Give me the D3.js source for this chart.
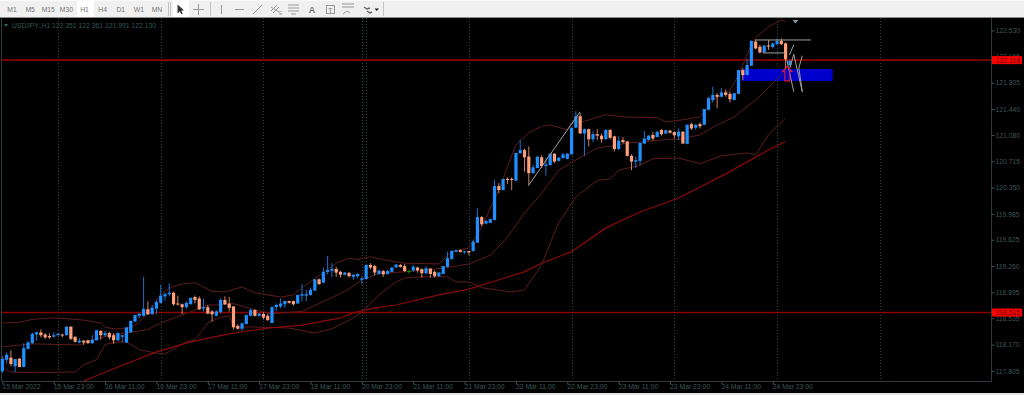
<!DOCTYPE html>
<html><head><meta charset="utf-8">
<script src="https://cdn.jsdelivr.net/npm/d3@7/dist/d3.min.js"></script>
<style>
html,body{margin:0;padding:0;background:#000;overflow:hidden}
svg{display:block}
text{font-family:"Liberation Sans",Arial,sans-serif}
</style></head><body>
<svg id="c" width="1024" height="395"></svg>
<script>
const timeframes=["M1","M5","M15","M30","H1","H4","D1","W1","MN"];
const legendSymbol="USDJPY.,H1";
const legendValues=["122.351","122.361","121.991","122.130"];
const priceTicks=[122.530,122.165,121.805,121.440,121.080,120.715,120.350,119.985,119.625,119.260,118.895,118.535,118.170,117.805];
const timeTickBars=[0,12,24,36,48,60,72,84,96,108,120,132,144,156,168,180];
const timeTickLabels=["15 Mar 2022","15 Mar 23:00","16 Mar 11:00","16 Mar 23:00","17 Mar 11:00","17 Mar 23:00","18 Mar 11:00","20 Mar 23:00","21 Mar 11:00","21 Mar 23:00","22 Mar 11:00","22 Mar 23:00","23 Mar 11:00","23 Mar 23:00","24 Mar 11:00","24 Mar 23:00"];
const gridBars=[13,37,61,84,85,109,133,157,181,205];
const levels=[122.118,118.615];
const opens=[117.80,117.96,117.99,117.87,117.975,117.86,118.11,118.19,118.31,118.34,
118.31,118.29,118.28,118.30,118.31,118.30,118.42,118.28,118.20,118.225,
118.23,118.19,118.23,118.36,118.30,118.33,118.30,118.23,118.28,118.20,
118.34,118.49,118.57,118.57,118.66,118.595,118.67,118.75,118.84,118.87,
118.89,118.74,118.73,118.69,118.73,118.83,118.81,118.67,118.69,118.63,
118.57,118.62,118.79,118.74,118.70,118.43,118.39,118.455,118.57,118.65,
118.57,118.595,118.57,118.47,118.69,118.70,118.73,118.775,118.775,118.74,
118.85,118.85,118.86,118.92,119.076,119.03,119.18,119.195,119.22,119.18,
119.14,119.165,119.11,119.12,119.07,119.08,119.275,119.26,119.15,119.19,
119.15,119.18,119.24,119.275,119.26,119.19,119.20,119.24,119.215,119.16,
119.225,119.18,119.12,119.15,119.25,119.36,119.46,119.48,119.45,119.47,
119.47,119.585,119.94,119.85,119.86,119.90,120.37,120.315,120.47,120.47,
120.445,120.825,120.87,120.78,120.55,120.62,120.77,120.65,120.66,120.82,
120.72,120.76,120.75,120.81,121.18,121.34,121.10,121.16,121.02,121.09,
121.07,121.02,121.15,121.06,120.885,121.01,120.99,120.79,120.71,120.72,
120.96,121.01,121.08,121.05,121.15,121.10,121.14,121.12,121.06,121.125,
120.955,121.23,121.18,121.23,121.22,121.43,121.565,121.635,121.61,121.67,
121.65,121.565,121.65,121.98,121.91,122.04,122.375,122.305,122.225,122.32,
122.30,122.34,122.385,122.351,122.05];
const highs=[118.01,118.06,118.09,117.97,117.98,118.19,118.22,118.34,118.35,118.38,
118.33,118.33,118.34,118.33,118.32,118.42,118.42,118.28,118.26,118.23,
118.24,118.30,118.37,118.37,118.36,118.35,118.33,118.34,118.30,118.41,
118.50,118.58,118.60,119.11,118.77,118.72,118.79,119.00,118.89,119.02,
118.905,118.85,118.74,118.77,118.82,118.85,118.84,118.81,118.72,118.65,
118.65,118.81,118.84,118.83,118.70,118.455,118.475,118.58,118.67,118.66,
118.61,118.62,118.60,118.70,118.74,118.81,118.78,118.78,118.78,118.86,
119.01,118.93,118.96,119.08,119.09,119.24,119.40,119.30,119.25,119.195,
119.18,119.18,119.145,119.16,119.11,119.28,119.30,119.28,119.215,119.205,
119.205,119.24,119.29,119.29,119.29,119.215,119.275,119.25,119.23,119.26,
119.23,119.20,119.18,119.26,119.46,119.48,119.49,119.49,119.47,119.47,
119.62,120.06,119.955,119.90,119.92,120.455,120.41,120.47,120.49,120.49,
120.83,121.01,120.89,120.92,120.67,120.78,120.80,120.765,120.82,120.82,
120.77,120.83,120.83,121.18,121.41,121.39,121.17,121.17,121.13,121.16,
121.10,121.16,121.16,121.07,121.06,121.05,121.00,120.81,120.78,120.97,
121.135,121.08,121.12,121.13,121.16,121.15,121.15,121.13,121.17,121.13,
121.23,121.25,121.23,121.25,121.44,121.61,121.75,121.66,121.73,121.71,
121.68,121.66,121.98,122.005,122.135,122.39,122.40,122.33,122.33,122.40,
122.36,122.42,122.42,122.361,122.13];
const lows=[117.78,117.91,117.87,117.79,117.86,117.855,118.105,118.18,118.225,118.27,
118.25,118.25,118.27,118.30,118.27,118.30,118.23,118.20,118.19,118.165,
118.18,118.18,118.23,118.24,118.28,118.24,118.18,118.22,118.20,118.19,
118.34,118.49,118.535,118.56,118.58,118.58,118.60,118.74,118.78,118.84,
118.71,118.71,118.595,118.67,118.73,118.74,118.65,118.63,118.595,118.49,
118.56,118.60,118.72,118.63,118.38,118.38,118.36,118.455,118.56,118.56,
118.56,118.52,118.50,118.47,118.64,118.675,118.68,118.74,118.71,118.74,
118.77,118.77,118.85,118.92,119.00,119.02,119.145,119.11,119.11,119.10,
119.13,119.10,119.07,119.09,119.01,119.08,119.215,119.13,119.14,119.11,
119.14,119.18,119.24,119.24,119.18,119.155,119.18,119.17,119.10,119.15,
119.10,119.10,119.11,119.15,119.24,119.345,119.45,119.45,119.43,119.41,
119.46,119.58,119.815,119.84,119.855,119.89,120.27,120.31,120.40,120.315,
120.44,120.82,120.57,120.39,120.54,120.62,120.62,120.515,120.66,120.69,
120.71,120.75,120.74,120.81,121.18,121.10,120.79,120.92,120.98,121.01,
120.97,121.02,121.02,120.85,120.87,120.96,120.78,120.59,120.62,120.66,
120.95,121.00,121.00,121.05,121.07,121.09,121.10,121.03,121.01,120.96,
120.95,121.15,121.15,121.17,121.22,121.42,121.53,121.45,121.60,121.61,
121.53,121.56,121.65,121.84,121.91,122.04,122.27,122.21,122.22,122.26,
122.28,122.33,122.33,121.991,122.04];
const closes=[117.97,118.03,117.90,117.97,117.86,118.12,118.20,118.32,118.34,118.30,
118.27,118.27,118.30,118.32,118.30,118.42,118.25,118.21,118.225,118.20,
118.19,118.24,118.37,118.30,118.33,118.27,118.23,118.33,118.30,118.41,
118.50,118.58,118.60,118.665,118.59,118.68,118.76,118.85,118.87,118.89,
118.73,118.73,118.69,118.75,118.82,118.79,118.66,118.69,118.60,118.59,
118.63,118.79,118.73,118.68,118.41,118.39,118.465,118.58,118.65,118.57,
118.60,118.545,118.51,118.69,118.72,118.74,118.775,118.75,118.73,118.86,
118.87,118.87,118.93,119.076,119.01,119.18,119.205,119.22,119.17,119.14,
119.17,119.12,119.14,119.15,119.09,119.275,119.24,119.17,119.195,119.145,
119.19,119.24,119.28,119.25,119.19,119.19,119.25,119.20,119.16,119.23,
119.15,119.12,119.17,119.26,119.37,119.47,119.48,119.455,119.465,119.45,
119.60,119.94,119.84,119.885,119.91,120.37,120.315,120.47,120.455,120.455,
120.83,120.87,120.77,120.55,120.63,120.78,120.65,120.67,120.82,120.71,
120.765,120.81,120.82,121.18,121.34,121.10,121.16,121.02,121.09,121.07,
121.02,121.15,121.04,120.885,121.00,120.98,120.79,120.71,120.73,120.97,
121.03,121.07,121.03,121.125,121.09,121.145,121.11,121.075,121.125,120.96,
121.22,121.17,121.22,121.20,121.44,121.59,121.635,121.61,121.67,121.635,
121.575,121.66,121.98,121.91,122.05,122.385,122.28,122.225,122.32,122.305,
122.35,122.385,122.34,122.13,122.107];
const upperBars=[0,4,7,11,15,19,23,24,26,29,31,33,37,39,42,45,47,49,52,56,59,65,68,70,76,78,81,83,86,89,94,102,105,109,112,116,118,120,123,126,128,132,133,136,141,145,153,155,159,163,166,170,172,175,176,179,182,183];
const upperPrices=[118.47,118.48,118.52,118.54,118.53,118.51,118.47,118.41,118.39,118.39,118.44,118.54,118.86,118.96,119.01,119.03,118.97,118.91,118.90,118.97,118.89,118.83,118.86,118.96,119.21,119.30,119.37,119.35,119.39,119.35,119.30,119.29,119.46,119.51,119.80,120.32,120.635,120.94,121.11,121.20,121.22,121.15,121.25,121.27,121.36,121.33,121.32,121.26,121.29,121.33,121.565,121.70,121.91,122.33,122.43,122.58,122.675,122.65];
const middleBars=[0,7,18,20,25,29,34,37,41,45,48,50,54,59,63,70,74,79,81,84,88,94,103,109,114,118,122,126,130,133,139,144,146,149,154,158,163,167,171,176,182,183];
const middlePrices=[118.14,118.18,118.165,118.21,118.30,118.33,118.38,118.47,118.56,118.65,118.72,118.72,118.74,118.65,118.60,118.63,118.74,118.88,118.94,119.07,119.16,119.18,119.23,119.29,119.41,119.66,119.997,120.27,120.59,120.70,120.90,120.94,120.97,120.98,121.01,121.02,121.08,121.22,121.33,121.565,121.91,122.02];
const lowerBars=[0,2,7,17,19,22,24,26,29,32,36,38,43,45,48,51,53,54,59,67,73,77,82,84,88,92,94,98,104,106,109,112,119,122,126,128,130,134,139,142,144,149,152,158,163,168,174,176,179,183];
const lowerPrices=[117.85,117.79,117.78,117.79,117.89,117.96,118.17,118.20,118.21,118.10,118.05,118.04,118.21,118.235,118.47,118.55,118.57,118.415,118.415,118.40,118.33,118.39,118.54,118.62,118.86,119.04,119.095,119.11,119.11,119.04,119.04,118.96,118.90,118.93,119.275,119.58,119.86,120.22,120.45,120.47,120.59,120.66,120.75,120.76,120.68,120.79,120.83,120.80,121.08,121.315];
const maBars=[19,27,36,43,48,54,62,70,79,82,87,92,102,109,116,122,126,133,141,149,158,169,179,183];
const maPrices=[117.665,117.86,118.07,118.19,118.26,118.33,118.40,118.44,118.54,118.61,118.68,118.72,118.86,118.94,119.07,119.18,119.30,119.46,119.79,120.01,120.205,120.54,120.87,120.99];
const zoneBars=[172.8,194];
const zonePrices=[121.995,121.829];
const trendBars=[122.9,134.9];
const trendPrices=[120.376,121.395];
const hLineA={bars:[175.9,188.9],prices:[122.398,122.398]};
const hLineB={bars:[177.7,183],prices:[122.218,122.218]};
const zigBars=[[183.3,184.9],[184.0,184.9,186.9,186.1,186.9],[183.9,184.9]];
const zigPrices=[[122.12,121.68],[122.01,122.2,121.68,122.01,122.18],[122.19,122.33]];
const arrowBar=183.4, arrowPrices=[122.03,121.83];

const W=1024,H=395,L=2,R=991,T=18,B=381;
const svg=d3.select("#c");
const x=d3.scaleLinear().domain([0,205]).range([2.36,879.76]);
const y=d3.scaleLinear().domain([117.665,122.703]).range([B,T]);
const dim="#3c5656";

svg.append("rect").attr("width",W).attr("height",H).attr("fill","#000");
// grid
svg.append("g").selectAll("line").data(gridBars).join("line")
 .attr("x1",d=>Math.round(x(d))+.5).attr("x2",d=>Math.round(x(d))+.5).attr("y1",T).attr("y2",B)
 .attr("stroke","#2a4a44").attr("stroke-dasharray","1,2");
// frame
svg.append("path").attr("d",`M${L-.5},${T}V${B+.5}H${R+.5}V${T}`).attr("fill","none").attr("stroke","#2c3c3c");

// axes
const ax=svg.append("g").attr("transform",`translate(${R+.5},0)`)
 .call(d3.axisRight(y).tickValues(priceTicks).tickSize(3).tickFormat(d3.format(".3f")));
ax.select(".domain").remove();
ax.selectAll("line").attr("stroke",dim);
ax.selectAll("text").attr("x",4).attr("fill",dim).attr("font-size",6.8).attr("font-family",'"Liberation Sans",Arial,sans-serif');
const bx=svg.append("g").attr("transform",`translate(0,${B+.5})`)
 .call(d3.axisBottom(x).tickValues(timeTickBars).tickSize(3).tickFormat((d,i)=>timeTickLabels[i]));
bx.select(".domain").remove();
bx.selectAll("line").attr("stroke",dim);
bx.selectAll("text").attr("text-anchor","start").attr("x",-.5).attr("y",3).attr("fill",dim).attr("font-size",6.8).attr("font-family",'"Liberation Sans",Arial,sans-serif');

// levels
svg.append("g").selectAll("line").data(levels).join("line")
 .attr("x1",L).attr("x2",R).attr("y1",d=>y(d)).attr("y2",d=>y(d))
 .attr("stroke","#8b0000").attr("stroke-width",1.6);

// zone
svg.append("rect").attr("x",x(zoneBars[0])).attr("width",x(zoneBars[1])-x(zoneBars[0]))
 .attr("y",y(zonePrices[0])).attr("height",y(zonePrices[1])-y(zonePrices[0])).attr("fill","#0000cd");

// indicator lines
const line=d3.line().x(d=>x(d[0])).y(d=>y(d[1]));
const bandSets=[[upperBars,upperPrices],[middleBars,middlePrices],[lowerBars,lowerPrices]];
svg.append("g").selectAll("path").data(bandSets).join("path")
 .attr("d",s=>line(s[0].map((b,i)=>[b,s[1][i]]))).attr("fill","none").attr("stroke","#5e1c1c").attr("stroke-width",1);
svg.append("path").attr("d",line(maBars.map((b,i)=>[b,maPrices[i]]))).attr("fill","none").attr("stroke","#8b0a0a").attr("stroke-width",1.2);

// candles
const blue="#1e90ff",salmon="#ffa07a",doji="#00a000";
const bars=opens.map((o,i)=>({i,o,h:highs[i],l:lows[i],c:closes[i]}));
const col=d=>d.c>d.o?blue:d.c<d.o?salmon:doji;
const g=svg.append("g");
g.selectAll(".w").data(bars).join("line").attr("class","w")
 .attr("x1",d=>x(d.i)).attr("x2",d=>x(d.i))
 .attr("y1",d=>y(d.h)).attr("y2",d=>y(d.l)).attr("stroke",col).attr("stroke-opacity",.8);
g.selectAll(".b").data(bars).join("rect").attr("class","b")
 .attr("x",d=>x(d.i)-1.6).attr("width",3.2)
 .attr("y",d=>y(Math.max(d.o,d.c)))
 .attr("height",d=>Math.max(1,Math.abs(y(d.o)-y(d.c))))
 .attr("fill",col);

// drawn objects
const gray="#a0a0a0";
svg.append("path").attr("d",line([[trendBars[0],trendPrices[0]],[trendBars[1],trendPrices[1]]])).attr("stroke",gray).attr("fill","none");
[hLineA,hLineB].forEach(h=>svg.append("path").attr("d",line(h.bars.map((b,i)=>[b,h.prices[i]]))).attr("stroke",gray).attr("fill","none"));
zigBars.forEach((bs,k)=>svg.append("path").attr("d",line(bs.map((b,i)=>[b,zigPrices[k][i]]))).attr("stroke",gray).attr("fill","none"));
// arrow
const ax0=x(arrowBar),ya=y(arrowPrices[0]),yb=y(arrowPrices[1]);
svg.append("path").attr("d",`M${ax0},${ya}L${ax0+4.5},${ya+5}H${ax0+2.5}V${yb}H${ax0-2.5}V${ya+5}H${ax0-4.5}Z`)
 .attr("fill","none").attr("stroke","#dc143c").attr("stroke-width",1.2);
// chart shift marker
svg.append("path").attr("d",`M${x(184.6)},20H${x(184.6)+6}L${x(184.6)+3},23.5Z`).attr("fill","#7f99a8");

// price labels
const lg=svg.append("g").selectAll("g").data(levels).join("g").attr("transform",d=>`translate(${R+1},${y(d)})`);
lg.append("rect").attr("y",-4).attr("width",30).attr("height",8).attr("fill","#ff0000");
lg.append("text").attr("x",4).attr("y",2.5).attr("font-size",6.8).attr("fill","#5a0000").text(d=>d.toFixed(3));

// legend
svg.append("path").attr("d","M4,24H8L6,27Z").attr("fill","#2f6666");
svg.append("text").attr("x",12).attr("y",27.5).attr("font-size",6.8).attr("fill","#2c5a5a").text(legendSymbol);
svg.append("text").attr("x",52).attr("y",27.5).attr("font-size",6.8).attr("fill","#2c5a5a").text(legendValues.join(" "));

// bottom edge
svg.append("rect").attr("y",393).attr("width",W).attr("height",2).attr("fill","#e4e4e4");

// toolbar
const tb=svg.append("g");
tb.append("rect").attr("width",W).attr("height",17).attr("fill","#f0f0f0");
tb.append("rect").attr("y",0).attr("width",W).attr("height",1).attr("fill","#fafafa");
tb.append("rect").attr("y",17).attr("width",W).attr("height",1).attr("fill","#8c8c8c");
tb.append("rect").attr("x",77).attr("y",1).attr("width",17).attr("height",16).attr("fill","#fff");
tb.append("rect").attr("x",173).attr("y",1).attr("width",16).attr("height",16).attr("fill","#fff");
const tfX=d3.scalePoint().domain(timeframes).range([12,157]);
tb.selectAll(".tf").data(timeframes).join("text").attr("class","tf")
 .attr("x",d=>tfX(d)).attr("y",12).attr("text-anchor","middle").attr("font-size",6.8).attr("fill","#777").text(d=>d);
[168,170,210,383].forEach(s=>tb.append("line").attr("x1",s+.5).attr("x2",s+.5).attr("y1",2).attr("y2",16).attr("stroke","#c4c4c4"));
const ic="#999";
tb.append("path").attr("d","M177.5,4.5L177.5,13.5L179.8,11.3L181.3,14.3L182.8,13.5L181.3,10.7L184,10.3Z").attr("fill","#333");
tb.append("path").attr("d","M193,9.5H204M198.5,4V15").attr("stroke",ic).attr("fill","none");
tb.append("path").attr("d","M221.5,5V14").attr("stroke",ic).attr("fill","none");
tb.append("path").attr("d","M235,9.5H244").attr("stroke",ic).attr("fill","none");
tb.append("path").attr("d","M253,14L262,5").attr("stroke",ic).attr("fill","none");
tb.append("path").attr("d","M271,11L277,5M273,13L279,7M271,7L279,12").attr("stroke",ic).attr("fill","none");
tb.append("text").attr("x",279).attr("y",15).attr("font-size",5).attr("fill",ic).text("E");
tb.append("path").attr("d","M288,5H299M288,8H299M288,11H299M291,14H296").attr("stroke",ic).attr("fill","none");
tb.append("text").attr("x",312).attr("y",13).attr("text-anchor","middle").attr("font-size",9).attr("font-weight","bold").attr("fill","#777").text("A");
tb.append("rect").attr("x",326.5).attr("y",5.5).attr("width",8).attr("height",8).attr("fill","none").attr("stroke",ic);
tb.append("text").attr("x",330.5).attr("y",12.5).attr("text-anchor","middle").attr("font-size",7).attr("fill","#777").text("T");
tb.append("path").attr("d","M342,4H354M342,7H354M343,14L347,11L350,13").attr("stroke",ic).attr("fill","none");
tb.append("path").attr("d","M364,7L367,9L370,8M367,11L370,13L372,12").attr("stroke","#666").attr("stroke-width",1.4).attr("fill","none");
tb.append("path").attr("d","M374.5,8.5H379L376.7,11Z").attr("fill","#222");
</script>
</body></html>
